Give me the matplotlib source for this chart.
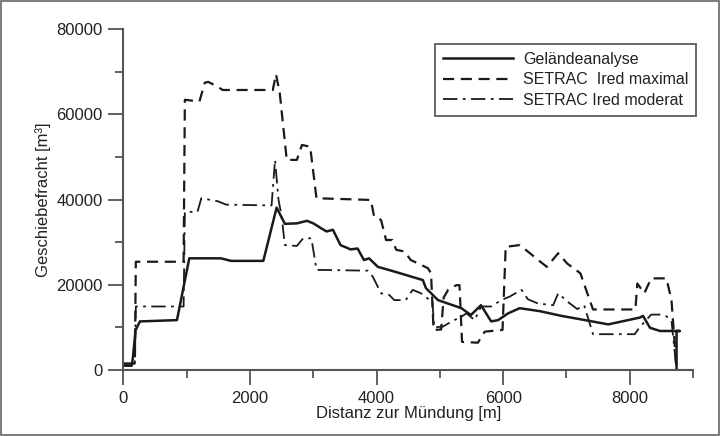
import numpy as np
import matplotlib
matplotlib.use("Agg")
from matplotlib import pyplot as plt
from matplotlib.patches import Rectangle
from matplotlib.ticker import MultipleLocator

plt.rcParams['font.family'] = ['Liberation Sans', 'DejaVu Sans']

# Geländeanalyse (solid)
gel_x = [0, 130, 150, 190, 260, 845, 1040, 1540, 1700, 2210, 2420, 2550, 2740,
         2900, 3000, 3130, 3210, 3310, 3430, 3590, 3700, 3800, 3880, 4020, 4280,
         4730, 4780, 4970, 5340, 5490, 5650, 5810, 5920, 6080, 6260, 6580, 6920,
         7370, 7660, 8160, 8210, 8320, 8480, 8790, 8740, 8740]
gel_y = [1000, 1000, 3000, 9300, 11400, 11700, 26200, 26200, 25600, 25600, 38100,
         34300, 34400, 35000, 34400, 33200, 32500, 32900, 29300, 28300, 28500,
         25800, 26200, 24200, 23100, 21100, 19200, 16400, 14500, 12900, 15200,
         11400, 11700, 13300, 14500, 13800, 12700, 11500, 10700, 12300, 12700,
         9900, 9150, 9150, 9150, 0]

# SETRAC Ired maximal (dashed)
max_x = [0, 180, 195, 950, 970, 1200, 1285, 1340, 1470, 1570, 2360, 2410, 2470,
         2580, 2740, 2820, 2950, 3050, 3910, 3960, 4070, 4150, 4250, 4310, 4440,
         4540, 4810, 4860, 4900, 5020, 5060, 5130, 5260, 5310, 5350, 5600, 5710,
         5990, 6040, 6260, 6390, 6520, 6690, 6870, 7010, 7220, 7330, 7420, 8090,
         8120, 8230, 8340, 8580, 8660, 8740]
max_y = [1500, 1500, 25400, 25400, 63400, 63000, 67400, 67600, 66600, 65700,
         65700, 69400, 64900, 49300, 49300, 52800, 52400, 40300, 39900, 36000,
         35200, 30500, 30500, 28200, 27800, 25800, 23900, 22700, 9400, 9500,
         17000, 18800, 19900, 19900, 6600, 6400, 9000, 9400, 28900, 29300, 27800,
         26200, 24200, 27400, 25000, 22700, 18000, 14200, 14200, 20300, 18000,
         21500, 21500, 16400, 0]

# SETRAC Ired moderat (dash-dot)
mod_x = [0, 180, 195, 950, 970, 1170, 1230, 1340, 1490, 1620, 2340, 2395, 2450,
         2500, 2550, 2740, 2840, 2970, 3050, 3860, 3940, 4070, 4200, 4280, 4460,
         4570, 4700, 4840, 4880, 4910, 5050, 5200, 5340, 5420, 5550, 5650, 5810,
         5970, 6100, 6290, 6390, 6550, 6790, 6870, 7020, 7170, 7280, 7420, 8080,
         8150, 8340, 8480, 8580, 8660, 8740]
mod_y = [1500, 1500, 14900, 14900, 37100, 37100, 40300, 40000, 39600, 38800,
         38600, 49300, 39900, 36000, 29300, 29100, 30900, 30900, 23500, 23300,
         21900, 18000, 17600, 16400, 16400, 18800, 18000, 16400, 16400, 10000,
         10200, 11500, 12500, 13300, 11700, 14900, 14900, 16400, 17200, 18800,
         16600, 15600, 15200, 18000, 16000, 14300, 15200, 8400, 8400, 9900,
         13000, 13000, 12600, 11600, 0]

fig = plt.figure(figsize=(7.2, 4.36), dpi=100)
ax = fig.add_axes([0.1715, 0.1514, 0.791, 0.782])

ink = '#1a1a1a'
ax.plot(gel_x, gel_y, color=ink, lw=1.8, ls='-', label='Geländeanalyse')
ax.plot(max_x, max_y, color=ink, lw=1.6, ls=(0, (5, 3)), label='SETRAC  Ired maximal')
ax.plot(mod_x, mod_y, color=ink, lw=1.3, ls=(0, (8, 3, 1.5, 3)), label='SETRAC Ired moderat')

ax.set_xlim(0, 9000)
ax.set_ylim(0, 80000)
ax.xaxis.set_major_locator(MultipleLocator(2000))
ax.xaxis.set_minor_locator(MultipleLocator(1000))
ax.yaxis.set_major_locator(MultipleLocator(20000))
ax.yaxis.set_minor_locator(MultipleLocator(10000))

for s in ['top', 'right']:
    ax.spines[s].set_visible(False)
for s in ['left', 'bottom']:
    ax.spines[s].set_color('#555555')
    ax.spines[s].set_linewidth(1.5)

ax.tick_params(which='major', direction='out', length=11, width=1.3, color='#555555',
               labelsize=12, labelcolor='#222222', pad=4)
ax.tick_params(which='minor', direction='out', length=6, width=1.3, color='#555555')

ax.set_xlabel('Distanz zur Mündung [m]', fontsize=12, color='#222222', labelpad=0)
ax.set_ylabel('Geschiebefracht [m³]', fontsize=12, color='#222222', labelpad=4)

leg = ax.legend(loc='upper right', bbox_to_anchor=(1.02, 0.98), fontsize=11.5,
                frameon=True, fancybox=False, edgecolor='#333333',
                handlelength=4.4, handletextpad=0.6, borderpad=0.5,
                labelspacing=0.35)
leg.get_frame().set_linewidth(1.3)
for t in leg.get_texts():
    t.set_color('#222222')

fig.patches.append(Rectangle((0.001, 0.002), 0.997, 0.996, transform=fig.transFigure,
                             fill=False, edgecolor='#666666', lw=1.2))

fig.savefig('out.png', dpi=100)
